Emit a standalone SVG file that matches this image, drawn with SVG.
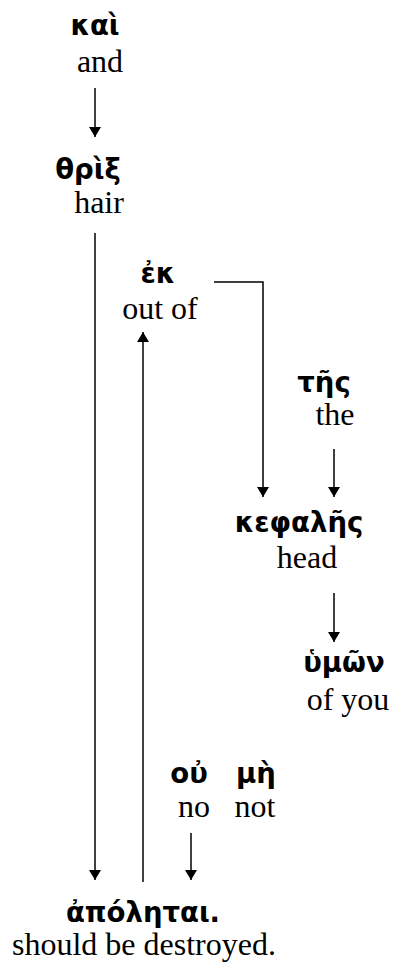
<svg xmlns="http://www.w3.org/2000/svg" width="393" height="965" viewBox="0 0 393 965">
<style>
.g{font-family:"DejaVu Sans","Noto Sans",sans-serif;font-weight:bold;font-size:27.5px;fill:#000;text-anchor:middle}
.e{font-family:"Liberation Serif","Times New Roman",serif;font-size:32px;fill:#000;text-anchor:middle}
.c{stroke:#000;stroke-width:1.5;fill:none}
</style>
<defs>
<marker id="ah" viewBox="0 0 10 12" refX="10" refY="6" markerWidth="10" markerHeight="12" markerUnits="userSpaceOnUse" orient="auto">
<path d="M0,0 L10,6 L0,12 z" fill="#000"/>
</marker>
</defs>
<rect width="393" height="965" fill="#fff"/>
<g id="connectors">
<path class="c" d="M95,88 V137" marker-end="url(#ah)"/>
<path class="c" d="M95,233 V880" marker-end="url(#ah)"/>
<path class="c" d="M143,882 V332" marker-end="url(#ah)"/>
<path class="c" d="M214,282 H263 V497" marker-end="url(#ah)"/>
<path class="c" d="M334,449 V497" marker-end="url(#ah)"/>
<path class="c" d="M334,593 V642" marker-end="url(#ah)"/>
<path class="c" d="M191,833 V880" marker-end="url(#ah)"/>
</g>
<g id="kai"><text class="g" x="95" y="35">καὶ</text><text class="e" x="100" y="72">and</text></g>
<g id="thrix"><text class="g" x="88" y="179">θρὶξ</text><text class="e" x="99" y="213">hair</text></g>
<g id="ek"><text class="g" x="158" y="283">ἐκ</text><text class="e" x="160" y="319">out of</text></g>
<g id="tes"><text class="g" x="324" y="392">τῆς</text><text class="e" x="335" y="425">the</text></g>
<g id="kephales"><text class="g" x="299" y="532">κεφαλῆς</text><text class="e" x="307" y="568">head</text></g>
<g id="hymon"><text class="g" x="344" y="672">ὑμῶν</text><text class="e" x="348" y="710">of you</text></g>
<g id="ou"><text class="g" x="189" y="783">οὐ</text><text class="e" x="194" y="817">no</text></g>
<g id="me"><text class="g" x="256" y="783">μὴ</text><text class="e" x="255" y="817">not</text></g>
<g id="apoletai"><text class="g" x="143" y="922">ἀπόληται.</text><text class="e" x="144" y="955">should be destroyed.</text></g>
</svg>
